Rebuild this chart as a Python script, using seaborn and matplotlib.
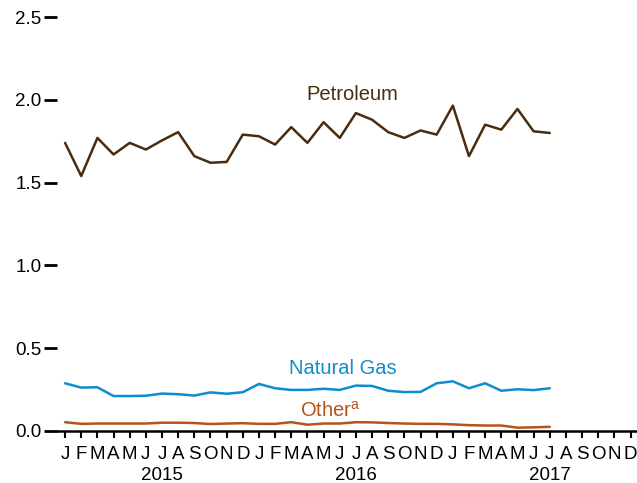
import matplotlib
matplotlib.use('Agg')
import matplotlib.pyplot as plt
import pandas as pd
import seaborn as sns

# monthly values, Jan 2015 - Jul 2017
months = ['J', 'F', 'M', 'A', 'M', 'J', 'J', 'A', 'S', 'O', 'N', 'D'] * 3
years = ['2015', '2016', '2017']
petroleum = [1.74, 1.54, 1.77, 1.67, 1.74, 1.70, 1.755, 1.805, 1.66, 1.62, 1.625, 1.79,
             1.78, 1.73, 1.835, 1.74, 1.865, 1.77, 1.92, 1.88, 1.805, 1.77, 1.815, 1.79,
             1.965, 1.66, 1.85, 1.82, 1.945, 1.81, 1.80]
natural_gas = [0.288, 0.262, 0.264, 0.211, 0.211, 0.213, 0.226, 0.222, 0.214, 0.233, 0.225, 0.234,
               0.284, 0.258, 0.248, 0.248, 0.255, 0.248, 0.274, 0.272, 0.243, 0.235, 0.236, 0.288,
               0.30, 0.258, 0.288, 0.243, 0.252, 0.247, 0.258]
other = [0.053, 0.043, 0.045, 0.045, 0.045, 0.045, 0.05, 0.05, 0.048, 0.042, 0.045, 0.047,
         0.043, 0.043, 0.053, 0.038, 0.045, 0.045, 0.053, 0.052, 0.048, 0.045, 0.043, 0.043,
         0.04, 0.035, 0.033, 0.033, 0.02, 0.022, 0.025]

colors = {'Petroleum': '#4a2c0e', 'Natural Gas': '#0f8ccc', 'Other': '#b5541a'}

n = len(petroleum)
df = pd.DataFrame({
    'month': list(range(n)) * 3,
    'value': petroleum + natural_gas + other,
    'series': ['Petroleum'] * n + ['Natural Gas'] * n + ['Other'] * n,
})

sns.set_style('white')
plt.rcParams['font.family'] = ['Liberation Sans', 'DejaVu Sans']

fig = plt.figure(figsize=(6.37, 4.83), dpi=100)
ax = fig.add_axes([0.0895, 0.1077, 0.9105, 0.857])

sns.lineplot(data=df, x='month', y='value', hue='series', palette=colors,
             linewidth=1.8, legend=False, ax=ax, clip_on=False)

ax.set_xlim(-0.5, 35.4)
ax.set_ylim(0, 2.5)
ax.set_yticks([0.0, 0.5, 1.0, 1.5, 2.0, 2.5])
ax.set_yticklabels(['0.0', '0.5', '1.0', '1.5', '2.0', '2.5'])
ax.set_xticks(range(36))
ax.set_xticklabels(months)
ax.set_xlabel('')
ax.set_ylabel('')

# year labels under July of each year
for k, yr in enumerate(years):
    ax.annotate(yr, xy=(6 + 12 * k, 0), xycoords=('data', 'axes fraction'),
                xytext=(0, -35), textcoords='offset points',
                ha='center', va='baseline', fontsize=13.5, color='black')

sns.despine(ax=ax, left=True)
ax.spines['bottom'].set_linewidth(1.8)
ax.spines['bottom'].set_color('black')
ax.tick_params(axis='y', length=9.5, width=2, pad=1.5, labelsize=13.5, colors='black', left=True)
ax.tick_params(axis='x', length=5, width=1.5, pad=5.5, labelsize=13.5, colors='black', bottom=True)

ax.text(17.75, 2.03, 'Petroleum', color=colors['Petroleum'], fontsize=14.5, ha='center', va='center')
ax.text(17.2, 0.38, 'Natural Gas', color=colors['Natural Gas'], fontsize=14.5, ha='center', va='center')
ax.text(16.4, 0.12, r'Other$^{\mathregular{a}}$', color=colors['Other'], fontsize=14.5, ha='center', va='center')

fig.savefig('out.png', dpi=100)
